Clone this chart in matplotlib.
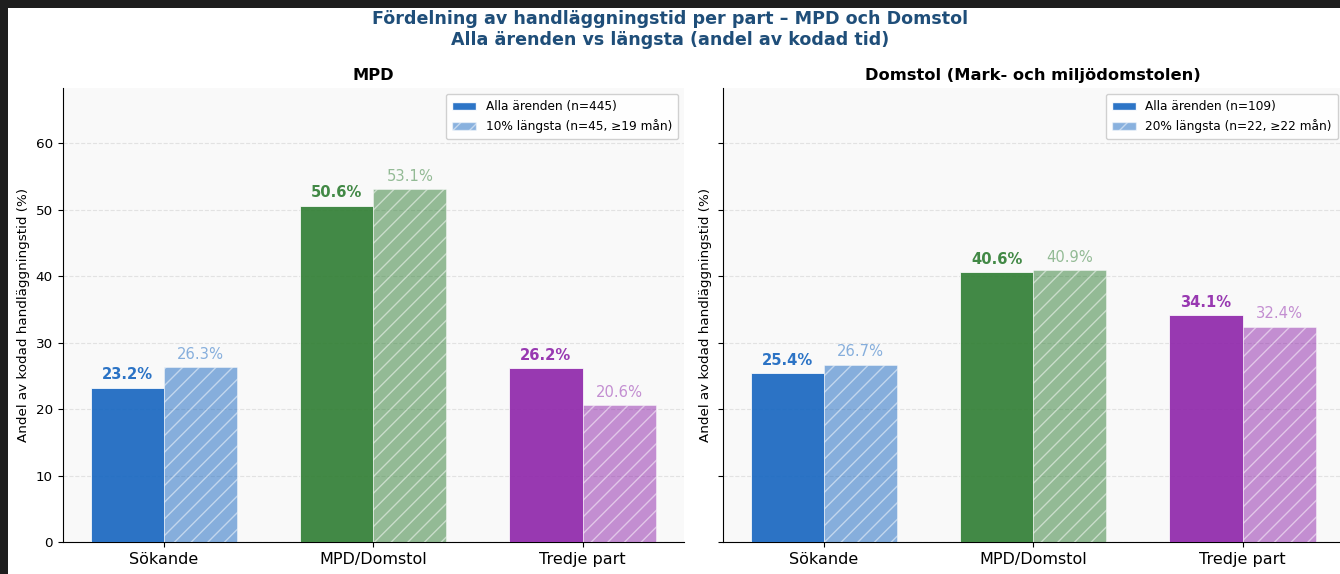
import numpy as np
import matplotlib
matplotlib.use("Agg")
import matplotlib.pyplot as plt
from matplotlib.patches import Patch, Rectangle

# ------------------------------------------------------------
# Data
# ------------------------------------------------------------
parts = ["Sökande", "MPD/Domstol", "Tredje part"]
part_colors = ["#1565C0", "#2E7D32", "#8E24AA"]

mpd_all = [23.2, 50.6, 26.2]
mpd_long = [26.3, 53.1, 20.6]
dom_all = [25.4, 40.6, 34.1]
dom_long = [26.7, 40.9, 32.4]

panel_titles = ["MPD", "Domstol (Mark- och miljödomstolen)"]
legend_all = ["Alla ärenden (n=445)", "Alla ärenden (n=109)"]
legend_long = ["10% längsta (n=45, ≥19 mån)", "20% längsta (n=22, ≥22 mån)"]

suptitle = ("Fördelning av handläggningstid per part – MPD och Domstol\n"
            "Alla ärenden vs längsta (andel av kodad tid)")
ylabel = "Andel av kodad handläggningstid (%)"

# ------------------------------------------------------------
# Figure
# ------------------------------------------------------------
fig = plt.figure(figsize=(13.4, 5.74), dpi=100)
fig.patch.set_facecolor("white")

# dark notebook frame along top/left edge
fig.patches.append(Rectangle((0, 1 - 8 / 574), 1, 8 / 574, transform=fig.transFigure,
                             facecolor="#1e1e1e", edgecolor="none", zorder=10))
fig.patches.append(Rectangle((0, 0), 8 / 1340, 1, transform=fig.transFigure,
                             facecolor="#1e1e1e", edgecolor="none", zorder=10))

ax_w = 621.5 / 1340
ax_h = (542 - 88) / 574
ax_b = 1 - 542 / 574
ax1 = fig.add_axes([62.5 / 1340, ax_b, ax_w, ax_h])
ax2 = fig.add_axes([722.5 / 1340, ax_b, ax_w, ax_h], sharey=ax1)

x = np.arange(len(parts))
width = 0.35

panels = [(ax1, mpd_all, mpd_long), (ax2, dom_all, dom_long)]
for i, (ax, all_vals, long_vals) in enumerate(panels):
    ax.set_facecolor("#f9f9f9")
    ax.bar(x - width / 2, all_vals, width, color=part_colors, alpha=0.9,
           edgecolor="white", linewidth=0.6, zorder=3)
    ax.bar(x + width / 2, long_vals, width, color=part_colors, alpha=0.5,
           edgecolor="white", linewidth=0.6, hatch="//", zorder=3)

    for j in range(len(parts)):
        ax.text(x[j] - width / 2, all_vals[j] + 0.8, f"{all_vals[j]:.1f}%",
                ha="center", va="bottom", fontsize=10.6, fontweight="bold",
                color=part_colors[j], alpha=0.9, zorder=4)
        ax.text(x[j] + width / 2, long_vals[j] + 0.8, f"{long_vals[j]:.1f}%",
                ha="center", va="bottom", fontsize=10.6,
                color=part_colors[j], alpha=0.5, zorder=4)

    ax.set_xticks(x)
    ax.set_xticklabels(parts, fontsize=11.5)
    ax.set_ylabel(ylabel, fontsize=9.7)
    ax.set_title(panel_titles[i], fontsize=11.7, fontweight="bold", pad=6)
    ax.grid(axis="y", linestyle="--", alpha=0.3, zorder=0)
    ax.spines["top"].set_visible(False)
    ax.spines["right"].set_visible(False)
    ax.tick_params(axis="y", labelsize=9.7)

    handles = [
        Patch(facecolor=part_colors[0], alpha=0.9, edgecolor="white",
              label=legend_all[i]),
        Patch(facecolor=part_colors[0], alpha=0.5, edgecolor="white", hatch="//",
              label=legend_long[i]),
    ]
    ax.legend(handles=handles, loc="upper right", fontsize=8.7, framealpha=0.9,
              borderpad=0.5)

ax1.set_ylim(0, 68.3)
ax1.set_yticks([0, 10, 20, 30, 40, 50, 60])
plt.setp(ax2.get_yticklabels(), visible=False)

fig.suptitle(suptitle, fontsize=12.6, fontweight="bold", color="#1f4e79",
             y=0.983)

fig.savefig("out.png", dpi=100)
